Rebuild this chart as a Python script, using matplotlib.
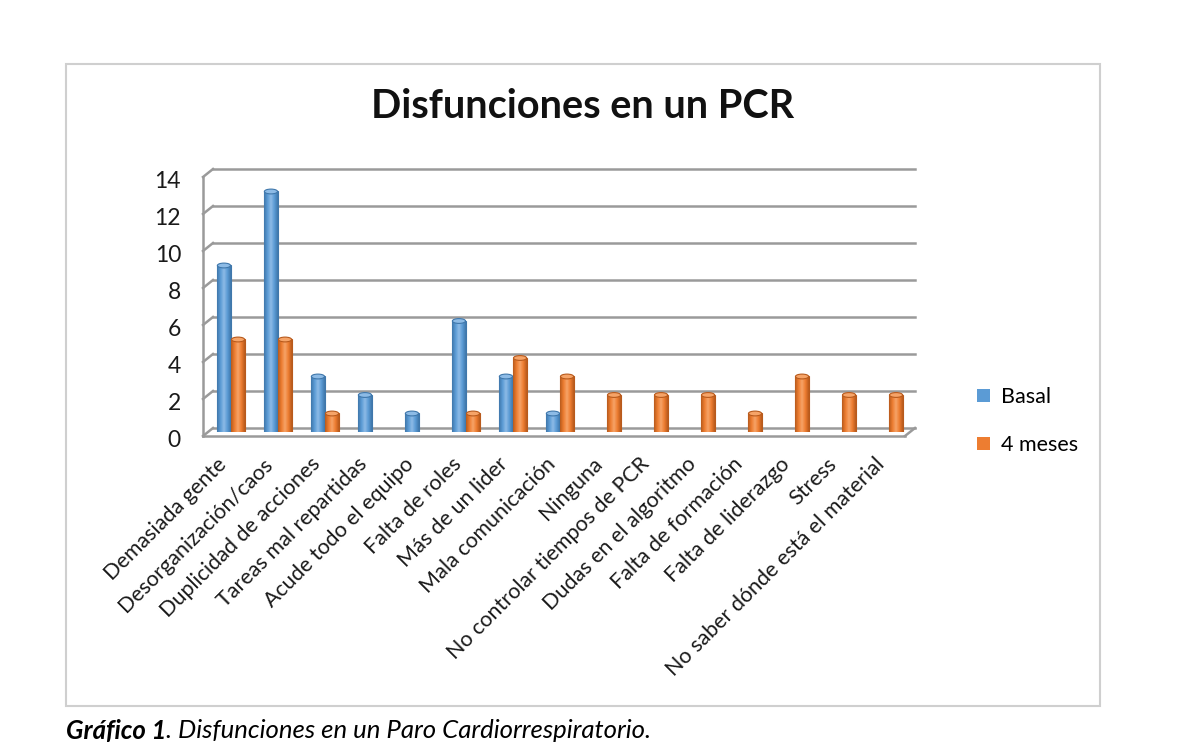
import numpy as np
import matplotlib
matplotlib.use('Agg')
import matplotlib.pyplot as plt
from matplotlib.patches import Rectangle, Ellipse, Patch
from matplotlib.colors import LinearSegmentedColormap
from matplotlib.transforms import offset_copy, IdentityTransform

plt.rcParams['font.family'] = ['Lato', 'DejaVu Sans']

# data
categorias = ['Demasiada gente', 'Desorganización/caos', 'Duplicidad de acciones',
              'Tareas mal repartidas', 'Acude todo el equipo', 'Falta de roles',
              'Más de un lider', 'Mala comunicación', 'Ninguna',
              'No controlar tiempos de PCR', 'Dudas en el algoritmo',
              'Falta de formación', 'Falta de liderazgo', 'Stress',
              'No saber dónde está el material']
basal = [9, 13, 3, 2, 1, 6, 3, 1, 0, 0, 0, 0, 0, 0, 0]
cuatro_meses = [5, 5, 1, 0, 0, 1, 4, 3, 2, 2, 2, 1, 3, 2, 2]
series = ['Basal', '4 meses']
y_ticks = [0, 2, 4, 6, 8, 10, 12, 14]

azul = '#5B9BD5'
naranja = '#ED7D31'
gris = '#9a9a9a'

fig = plt.figure(figsize=(12, 7.5), dpi=100)
ax = fig.add_axes([213 / 1200, 1 - 432 / 750, 702 / 1200, 259 / 750])
xmin, xmax = -0.383, 14.553
ax.set_xlim(xmin, xmax)
ax.set_ylim(0, 14)
ax.set_axis_off()

back = offset_copy(ax.transData, fig=fig, x=0, y=4, units='dots')
front = offset_copy(ax.transData, fig=fig, x=-10, y=-4, units='dots')


def diag(x, y):
    p1 = front.transform((x, y))
    p2 = back.transform((x, y))
    ax.add_line(plt.Line2D([p1[0], p2[0]], [p1[1], p2[1]], transform=IdentityTransform(),
                           color=gris, lw=1.8, clip_on=False))


# back wall grid + side ticks
tick_tr = offset_copy(ax.transData, fig=fig, x=-32, y=-9, units='dots')
for v in y_ticks:
    ax.plot([xmin, xmax], [v, v], transform=back, color=gris, lw=1.8, clip_on=False, zorder=1)
    diag(xmin, v)
    ax.text(xmin, v, str(v), transform=tick_tr, ha='right', va='center',
            fontsize=16.5, color='#1a1a1a')
ax.plot([xmin, xmin], [0, 14], transform=front, color=gris, lw=1.8, clip_on=False)
ax.plot([xmin, xmax], [0, 0], transform=front, color=gris, lw=1.8, clip_on=False)
diag(xmax, 0)

x = np.arange(len(categorias))
w = 0.28


def cilindros(xs, vals, color, oscuro, claro):
    cmap = LinearSegmentedColormap.from_list('c', [oscuro, color, claro, color, oscuro])
    grad = np.linspace(0, 1, 64).reshape(1, -1)
    for xc, v in zip(xs, vals):
        if v <= 0:
            continue
        r = Rectangle((xc - w / 2, 0), w, v, facecolor=color, edgecolor=oscuro, lw=0.8, zorder=3)
        ax.add_patch(r)
        im = ax.imshow(grad, extent=[xc - w / 2, xc + w / 2, 0, v], aspect='auto', cmap=cmap,
                       zorder=3.5)
        im.set_clip_path(r)
        ax.add_patch(Ellipse((xc, v), w, 0.26, facecolor=claro, edgecolor=oscuro, lw=0.8, zorder=4))


cilindros(x - 0.15, basal, azul, '#3f77ab', '#8dbbe6')
cilindros(x + 0.15, cuatro_meses, naranja, '#b85a1c', '#f6a468')
ax.set_xlim(xmin, xmax)
ax.set_ylim(0, 14)

lab_tr = offset_copy(ax.transData, fig=fig, x=-8, y=-29, units='dots')
for i, lab in enumerate(categorias):
    ax.text(i, 0, lab, transform=lab_tr, rotation=45, rotation_mode='anchor',
            ha='right', va='center', fontsize=15.5, color='#1a1a1a')

handles = [Patch(facecolor=azul, label=series[0]), Patch(facecolor=naranja, label=series[1])]
fig.legend(handles=handles, loc='center left', bbox_to_anchor=(958 / 1200, 1 - 421 / 750),
           frameon=False, fontsize=15.5, handlelength=0.6, handleheight=0.6,
           handletextpad=0.5, labelspacing=1.3)

fig.text(583 / 1200, 1 - 107 / 750, 'Disfunciones en un PCR', ha='center', va='center',
         fontsize=28.5, fontweight='bold', color='#111111')

fig.add_artist(Rectangle((66 / 1200, 1 - 706 / 750), 1034 / 1200, 642 / 750,
                         transform=fig.transFigure, fill=False, edgecolor='#cfcfcf', lw=1.5))

t1 = fig.text(66 / 1200, 1 - 731 / 750, 'Gráfico 1', fontsize=18.5, fontweight='bold',
              fontstyle='italic', va='center', ha='left')
fig.canvas.draw()
bb = t1.get_window_extent(fig.canvas.get_renderer())
fig.text(bb.x1 / 1200, 1 - 731 / 750, '. Disfunciones en un Paro Cardiorrespiratorio.',
         fontsize=18.5, fontstyle='italic', va='center', ha='left')

fig.savefig('out.png', dpi=100)
